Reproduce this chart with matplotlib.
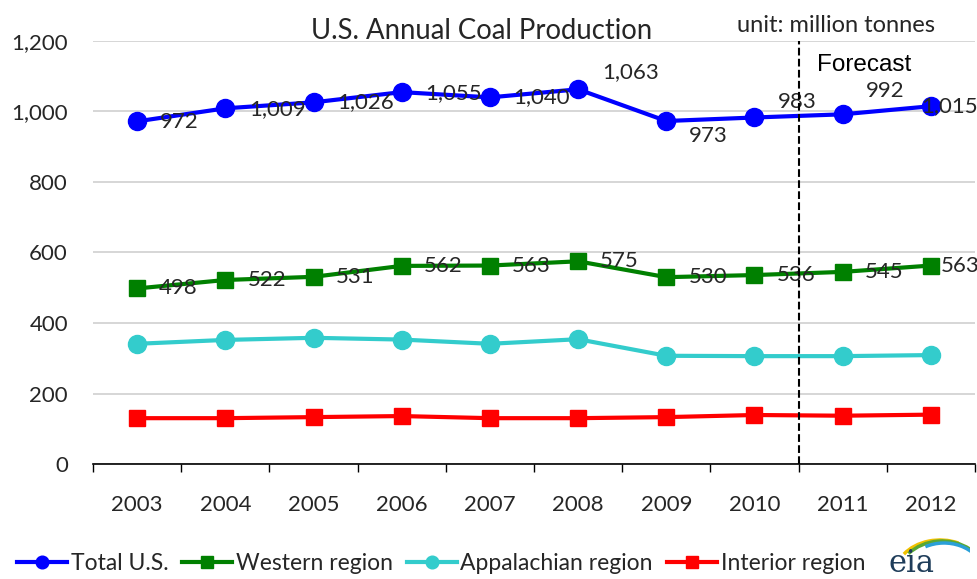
import numpy as np
import matplotlib.pyplot as plt
from matplotlib.patches import Arc

# data (million tonnes)
years = ['2003', '2004', '2005', '2006', '2007', '2008', '2009', '2010', '2011', '2012']
total = [972, 1009, 1026, 1055, 1040, 1063, 973, 983, 992, 1015]
western = [498, 522, 531, 562, 563, 575, 530, 536, 545, 563]
appalachian = [341, 352, 358, 353, 341, 354, 307, 306, 306, 309]
interior = [130, 130, 133, 136, 130, 130, 133, 139, 137, 140]

# label offsets in pixels (Excel-style placement)
tot_off = [(23, -1), (24, -1), (24, 0), (24, -1), (23, 0), (24, 17),
           (23, -15), (23, 15), (23, 23), (-10, 0)]
wes_off = [(22, 0)]*9 + [(10, 0)]

plt.rcParams['font.family'] = ['Lato', 'DejaVu Sans']
txtc = '#262626'
fs = 16

fig = plt.figure(figsize=(9.78, 5.79), dpi=100)
ax = fig.add_axes([93/978, 1-464/579, 882/978, 423/579])
x = np.arange(len(years))

ax.plot(x, total, '-o', c='#0000ff', lw=3, ms=13, label='Total U.S.', zorder=5)
ax.plot(x, western, '-s', c='#008000', lw=3, ms=11.5, label='Western region', zorder=5)
ax.plot(x, appalachian, '-o', c='#33cccc', lw=3, ms=13, label='Appalachian region', zorder=5)
ax.plot(x, interior, '-s', c='#ff0000', lw=3, ms=11.5, label='Interior region', zorder=5)

for i in range(len(years)):
    ax.annotate('{:,}'.format(total[i]), (x[i], total[i]), xytext=tot_off[i],
                textcoords='offset pixels', ha='left', va='center',
                fontsize=fs, color=txtc, zorder=6)
    ax.annotate('{:,}'.format(western[i]), (x[i], western[i]), xytext=wes_off[i],
                textcoords='offset pixels', ha='left', va='center',
                fontsize=fs, color=txtc, zorder=6)

# forecast divider
ax.axvline(7.5, color='k', ls='--', lw=1.5, zorder=7)

ax.set_xlim(-0.5, len(years)-0.5)
ax.set_ylim(0, 1200)
ax.set_yticks(range(0, 1201, 200))
ax.set_yticklabels(['{:,}'.format(v) for v in range(0, 1201, 200)])
ax.yaxis.grid(True, color='#d0d0d0', lw=1.2)
ax.set_axisbelow(True)
ax.set_xticks(x)
ax.set_xticklabels(years)
ax.set_xticks(np.arange(-0.5, len(years)), minor=True)
ax.tick_params(axis='x', which='major', length=0, pad=22, labelsize=fs, labelcolor=txtc)
ax.tick_params(axis='x', which='minor', length=6, width=1, direction='out')
ax.tick_params(axis='y', length=0, pad=18, labelsize=fs, labelcolor=txtc)
for s in ['top', 'right', 'left']:
    ax.spines[s].set_visible(False)
ax.spines['bottom'].set_linewidth(1.2)
for ln in ax.lines:
    ln.set_clip_on(False)

fig.text(482/978, 1-31/579, 'U.S. Annual Coal Production', ha='center', va='center',
         fontsize=19.8, color=txtc)
fig.text(836/978, 1-25/579, 'unit: million tonnes', ha='center', va='center',
         fontsize=17, color=txtc)
fig.text(864/978, 1-65/579, 'Forecast', ha='center', va='center',
         fontsize=17.5, color='k', family='Liberation Sans')

fig.legend(loc='center left', bbox_to_anchor=(-0.004, 1-564/579), ncol=4, frameon=False,
           fontsize=16.5, handlelength=2.2, handletextpad=0.15, columnspacing=0.6,
           markerscale=0.7, labelcolor=txtc)

# eia logo
lax = fig.add_axes([880/978, 0, 90/978, 45/579])
lax.set_xlim(0, 90)
lax.set_ylim(0, 45)
lax.axis('off')
lax.add_patch(Arc((60, 4), 90, 70, theta1=60, theta2=150, color='#f2c200', lw=2.5))
lax.add_patch(Arc((62, 2), 88, 72, theta1=45, theta2=145, color='#5aa832', lw=2.5))
lax.add_patch(Arc((64, 0), 84, 72, theta1=15, theta2=120, color='#2aa0d8', lw=2.5))
lax.text(32, 0, 'eia', ha='center', va='bottom', fontsize=22, color='#1f3d5a',
         family='DejaVu Serif')

fig.savefig('out.png', dpi=100)
